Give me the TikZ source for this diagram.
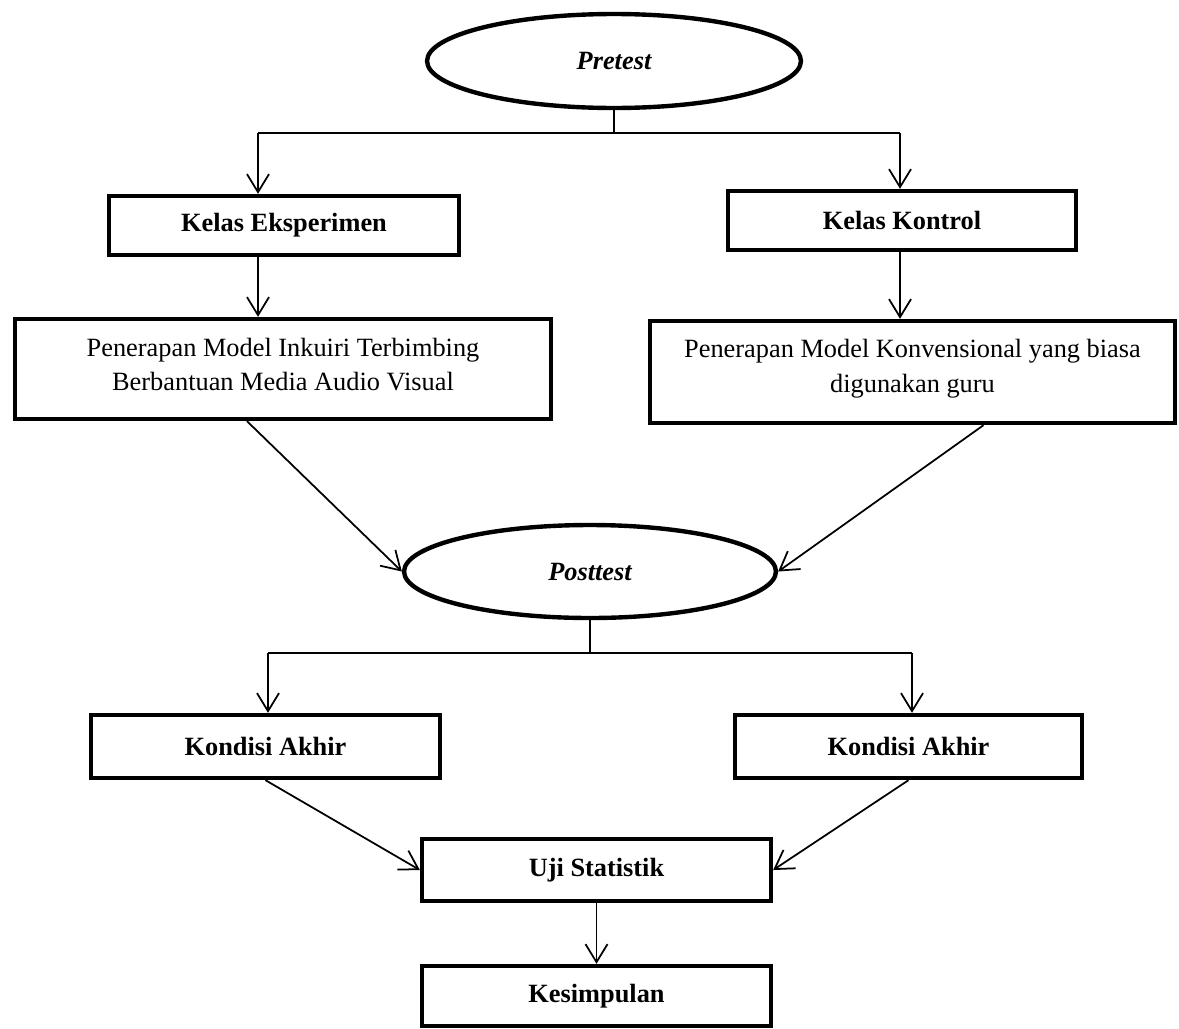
\documentclass[tikz,border=0pt]{standalone}
\usepackage{fontspec}
\setmainfont{Liberation Serif}
\usetikzlibrary{arrows.meta,shapes.geometric}

\begin{document}
\begin{tikzpicture}[x=0.02cm,y=-0.02cm,
  kotak/.style={draw,rectangle,line width=2.5pt,inner sep=0pt,align=center,font=\fontsize{15}{19.4}\selectfont},
  judul/.style={kotak,font=\fontsize{15}{19.4}\selectfont\bfseries},
  elips/.style={draw,ellipse,line width=2.5pt,inner sep=0pt,font=\fontsize{15}{19.4}\selectfont\bfseries\itshape},
  garis/.style={line width=0.6pt},
  panah/.style={line width=1pt,-{Straight Barb[length=3.6mm,width=4.4mm]}}]
\useasboundingbox (0,0) rectangle (1179,1028);
\node[elips,minimum width=7.48cm,minimum height=1.88cm] (pre) at (614,61) {Pretest};
\node[judul,minimum width=7cm,minimum height=1.18cm] (kelasE) at (284,225.5) {Kelas Eksperimen};
\node[judul,minimum width=6.96cm,minimum height=1.18cm] (kelasK) at (902,220.5) {Kelas Kontrol};
\node[kotak,text depth=5.5pt,minimum width=10.72cm,minimum height=2cm] (pen1) at (283,369) {Penerapan Model Inkuiri Terbimbing\\Berbantuan Media Audio Visual};
\node[kotak,text depth=7pt,minimum width=10.5cm,minimum height=2.04cm] (pen2) at (912.5,372) {Penerapan Model Konvensional yang biasa\\digunakan guru};
\node[elips,minimum width=7.44cm,minimum height=1.86cm] (post) at (590,571.5) {Posttest};
\node[judul,minimum width=6.98cm,minimum height=1.26cm] (kond1) at (265.5,746.5) {Kondisi Akhir};
\node[judul,minimum width=6.94cm,minimum height=1.26cm] (kond2) at (908.5,746.5) {Kondisi Akhir};
\node[judul,minimum width=6.98cm,minimum height=1.24cm] (uji) at (596.5,870) {Uji Statistik};
\node[judul,minimum width=6.98cm,minimum height=1.2cm] (kes) at (596.5,996) {Kesimpulan};

\coordinate (preL) at (258,133);
\coordinate (preR) at (900,133);
\draw[garis] (pre.south) -- (pre.south |- preL);
\draw[garis] (preL) -- (preR);
\draw[panah] (preL) -- (preL |- kelasE.north);
\draw[panah] (preR) -- (preR |- kelasK.north);
\draw[panah] (kelasE.south -| preL) -- (pen1.north -| preL);
\draw[panah] (kelasK.south -| preR) -- (pen2.north -| preR);
\draw[panah] ([xshift=-0.72cm]pen1.south) -- (post.west);
\draw[panah] ([xshift=1.42cm]pen2.south) -- (post.east);

\coordinate (postL) at (268,653);
\coordinate (postR) at (912,653);
\draw[garis] (post.south) -- (post.south |- postL);
\draw[garis] (postL) -- (postR);
\draw[panah] (postL) -- (postL |- kond1.north);
\draw[panah] (postR) -- (postR |- kond2.north);
\draw[panah] (kond1.south) -- (uji.west);
\draw[panah] (kond2.south) -- (uji.east);
\draw[panah] (uji.south) -- (kes.north);
\end{tikzpicture}
\end{document}
